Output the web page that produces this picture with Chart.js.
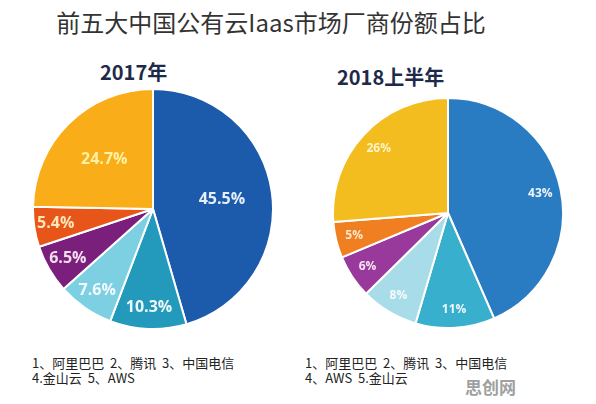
<!DOCTYPE html>
<html>
<head>
<meta charset="utf-8">
<script src="https://cdn.jsdelivr.net/npm/chart.js@4"></script>
<style>
  html, body { margin: 0; padding: 0; background: #ffffff; }
  body { width: 596px; height: 404px; position: relative; overflow: hidden; font-family: "Noto Sans CJK SC", "Noto Sans", sans-serif; }
  .abs { position: absolute; white-space: nowrap; }
  #title { left: 0; width: 542px; top: 6px; text-align: center; font-size: 24px; color: #333333; line-height: 32px; }
  .sub { font-size: 20px; font-weight: 700; color: #1e2a4a; line-height: 24px; }
  .legend { font-size: 13px; color: #222222; line-height: 15px; }
  #wm { left: 465px; top: 377px; font-size: 17px; font-weight: 700; color: #a0a0a0; line-height: 20px; letter-spacing: 0px; }
</style>
</head>
<body>
<div id="title" class="abs">前五大中国公有云Iaas市场厂商份额占比</div>
<div class="abs sub" style="left:100px; top:60px;">2017年</div>
<div class="abs sub" style="left:337px; top:65px;">2018上半年</div>
<div style="position:absolute; left:32px; top:88px; width:242px; height:242px;"><canvas id="c1" width="242" height="242"></canvas></div>
<div style="position:absolute; left:332px; top:97px; width:232px; height:232px;"><canvas id="c2" width="232" height="232"></canvas></div>
<div class="abs legend" style="left:32px; top:355px;">1、阿里巴巴&nbsp;&nbsp;2、腾讯&nbsp;&nbsp;3、中国电信<br>4.金山云&nbsp;&nbsp;5、AWS</div>
<div class="abs legend" style="left:305px; top:355px;">1、阿里巴巴&nbsp;&nbsp;2、腾讯&nbsp;&nbsp;3、中国电信<br>4、AWS&nbsp;&nbsp;5.金山云</div>
<div id="wm" class="abs">思创网</div>
<script>
// ---- data ----
const categories2017 = ['阿里巴巴', '腾讯', '中国电信', '金山云', 'AWS', '其他'];
const shares2017 = [45.5, 10.3, 7.6, 6.5, 5.4, 24.7];
const categories2018 = ['阿里巴巴', '腾讯', '中国电信', 'AWS', '金山云', '其他'];
const shares2018 = [43, 11, 8, 6, 5, 26];

const colors2017 = ['#1c5bab', '#2399bc', '#7dcfe2', '#7b1f7c', '#e85518', '#f9ad18'];
const colors2018 = ['#2a7cc2', '#38afcd', '#a7dce8', '#9a399c', '#f07f22', '#f3bd1f'];

const sliceLabels = {
  id: 'sliceLabels',
  afterDatasetsDraw(chart, args, opts) {
    const ctx = chart.ctx;
    const meta = chart.getDatasetMeta(0);
    const data = chart.data.datasets[0].data;
    ctx.save();
    ctx.textAlign = 'center';
    ctx.textBaseline = 'middle';
    ctx.font = opts.font;
    meta.data.forEach((arc, i) => {
      const p = arc.getProps(['startAngle', 'endAngle', 'outerRadius', 'x', 'y'], true);
      const mid = (p.startAngle + p.endAngle) / 2;
      const f = data[i] > 20 ? opts.bigR : opts.smallR;
      ctx.fillStyle = opts.colors[i];
      ctx.fillText(opts.format(data[i]), p.x + Math.cos(mid) * p.outerRadius * f, p.y + Math.sin(mid) * p.outerRadius * f);
    });
    ctx.restore();
  }
};

function makePie(id, labels, values, colors, labelOpts) {
  return new Chart(document.getElementById(id), {
    type: 'pie',
    data: {
      labels: labels,
      datasets: [{
        data: values,
        backgroundColor: colors,
        borderColor: '#ffffff',
        borderWidth: 2
      }]
    },
    options: {
      responsive: false,
      animation: false,
      devicePixelRatio: 1,
      layout: { padding: 0 },
      plugins: {
        legend: { display: false },
        tooltip: { enabled: false },
        sliceLabels: labelOpts
      }
    },
    plugins: [sliceLabels]
  });
}

makePie('c1', categories2017, shares2017, colors2017, {
  font: 'bold 16px "Open Sans", "DejaVu Sans", sans-serif',
  bigR: 0.58, smallR: 0.82,
  colors: ['#e6eefa', '#eef8fb', '#f2fbff', '#f3dff0', '#fde6b8', '#fff1a6'],
  format: v => v.toFixed(1) + '%'
});
makePie('c2', categories2018, shares2018, colors2018, {
  font: 'bold 12px "Open Sans", "DejaVu Sans", sans-serif',
  bigR: 0.82, smallR: 0.84,
  colors: ['#eef4fb', '#eef8fb', '#f4fbfd', '#f6e6f6', '#fde8cc', '#fff4c8'],
  format: v => v + '%'
});
</script>
</body>
</html>
